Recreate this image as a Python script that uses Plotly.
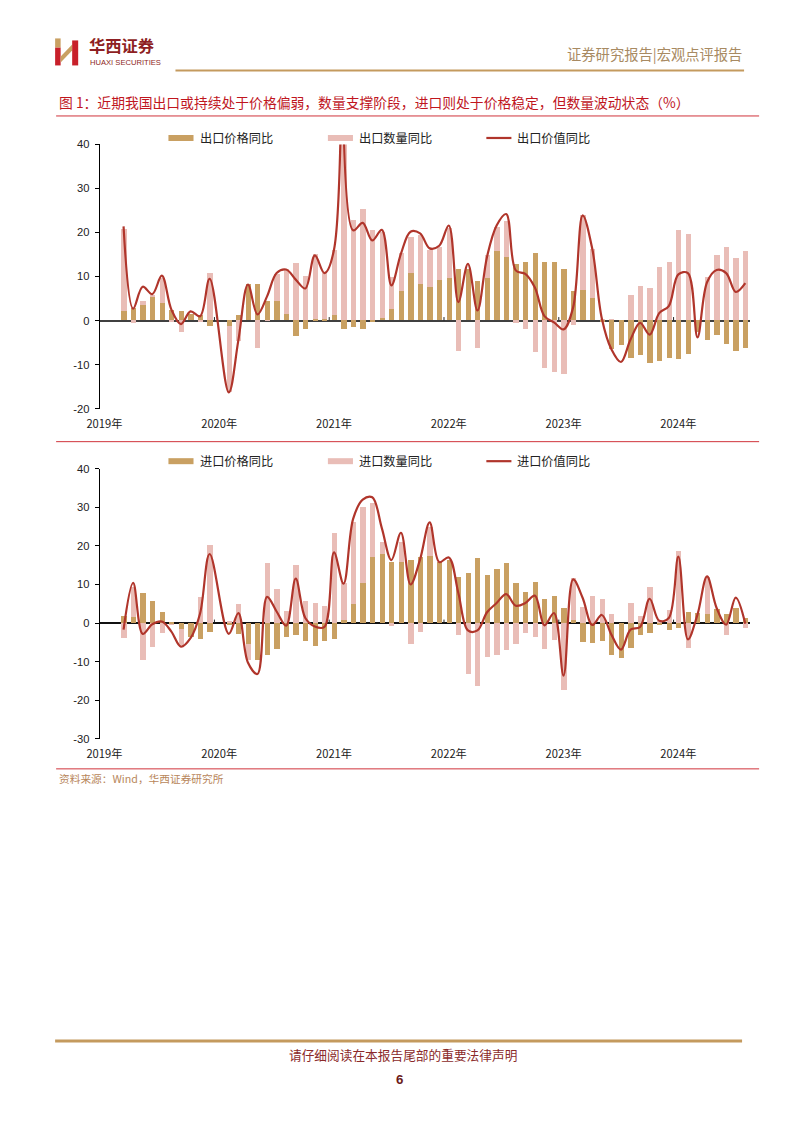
import plotly.graph_objects as go

W, H = 802, 1133

# ---------------- data ----------------
months = [
    "2019-03", "2019-04", "2019-05", "2019-06", "2019-07", "2019-08", "2019-09", "2019-10", "2019-11", "2019-12",
    "2020-02", "2020-03", "2020-04", "2020-05", "2020-06", "2020-07", "2020-08", "2020-09", "2020-10", "2020-11", "2020-12",
    "2021-01", "2021-02", "2021-03", "2021-04", "2021-05", "2021-06", "2021-07", "2021-08", "2021-09", "2021-10", "2021-11", "2021-12",
    "2022-01", "2022-02", "2022-03", "2022-04", "2022-05", "2022-06", "2022-07", "2022-08", "2022-09", "2022-10", "2022-11", "2022-12",
    "2023-01", "2023-02", "2023-03", "2023-04", "2023-05", "2023-06", "2023-07", "2023-08", "2023-09", "2023-10", "2023-11", "2023-12",
    "2024-01", "2024-02", "2024-03", "2024-04", "2024-05", "2024-06", "2024-07", "2024-08",
]

exp_price = [
    2.1, 2.8, 3.4, 5.3, 3.9, 2.3, 2.0, 1.5, 1.1, -1.3,
    -1.3, 1.1, 8.2, 8.3, 4.3, 4.3, 1.3, -3.6, -2.0, 0.2, 0.3,
    1.1, -2.0, -1.6, -2.0, -0.3, 0.5, 2.5, 6.6, 10.6, 8.1, 7.5, 9.2,
    9.5, 11.6, 11.5, 8.8, 9.5, 15.6, 14.3, 12.8, 13.2, 15.2, 13.2, 13.2,
    11.7, 6.5, 6.9, 5.1, -0.3, -6.6, -5.6, -8.5, -7.9, -9.8, -9.3, -8.6,
    -8.9, -7.7, -2.8, -4.5, -3.3, -5.5, -7.0, -6.4,
]
exp_qty = [
    20.8, -0.6, 4.3, 5.8, 9.5, -0.5, -2.8, 0.5, -0.4, 10.7,
    -16.3, -4.7, 7.4, -6.4, 0.3, 10.4, 11.7, 13.0, 10.0, 15.0, 10.7,
    16.0, 150.0, 22.7, 25.2, 20.4, 20.0, 9.8, 15.2, 18.9, 19.3, 15.9, 16.5,
    21.0, -7.0, 1.0, -6.4, 14.7, 21.1, 22.4, -0.7, -2.0, -7.2, -10.8, -11.8,
    -12.3, -1.0, 23.8, 16.1, 0.3, 0.2, -4.0, 5.7, 7.8, 7.3, 12.0, 13.1,
    20.5, 19.5, -1.0, 9.7, 14.8, 16.5, 14.2, 15.6,
]
exp_value = [
    21.4, 2.7, 7.7, 6.0, 10.2, 2.5, -0.8, 2.1, 1.0, 9.5,
    -16.3, -4.5, 8.2, 1.4, 5.5, 10.8, 11.6, 9.3, 7.3, 14.8, 10.8,
    16.1, 150.0, 20.5, 22.2, 18.2, 20.6, 8.0, 15.2, 20.2, 19.8, 16.4, 17.0,
    21.6, 4.2, 12.9, 2.3, 14.5, 21.6, 24.2, 11.4, 10.6, 7.5, 1.0, -0.4,
    -2.0, 3.0, 23.9, 16.3, 0.5, -6.5, -9.4, -4.3, -0.5, -3.2, 1.7, 3.3,
    10.5, 10.8, -3.8, 8.7, 11.5, 10.8, 6.5, 8.5,
]

imp_price = [
    1.9, 1.7, 7.9, 5.9, 2.9, 0.2, -1.5, -3.5, -4.0, -2.2,
    -0.5, -2.7, -5.4, -9.5, -8.2, -6.7, -3.5, -2.9, -4.6, -5.9, -4.5,
    -4.1, 1.0, 5.0, 10.4, 17.3, 18.0, 16.0, 15.8, 16.3, 17.1, 17.5, 16.0,
    16.5, 11.9, 13.1, 17.0, 12.6, 14.2, 15.6, 10.5, 8.2, 10.7, 6.4, 7.2,
    4.1, 1.0, -4.8, -5.0, -4.5, -8.3, -8.9, -6.3, -3.0, -2.6, -0.3, -1.8,
    -1.2, 2.9, 2.6, 2.5, 3.8, 2.4, 3.9, 1.4,
]
imp_qty = [
    -3.7, 9.5, -9.5, -6.1, -2.4, -0.5, -5.7, -1.0, 6.9, 20.2,
    0.5, 5.0, -9.5, -4.0, 15.7, 9.0, 3.2, 15.0, 5.8, 5.4, 4.5,
    23.3, 10.4, 26.3, 30.1, 31.3, 21.0, -0.8, 21.0, -5.4, -2.2, 25.0, 14.0,
    15.0, -3.1, -13.2, -16.3, -8.7, -8.1, -7.0, -5.4, -2.6, -3.6, -6.7, -4.4,
    -17.2, 11.8, 4.2, 7.1, 6.2, 2.4, -0.2, 5.3, 2.0, 9.4, 1.0, 3.5,
    18.8, -6.5, 0.7, 12.0, 1.0, -2.9, 2.5, -1.3,
]
imp_value = [
    -1.7, 10.4, -2.8, -0.3, 0.4, -2.2, -6.1, -3.9, 2.5, 17.9,
    -2.8, 2.6, -10.2, -13.2, 6.8, 3.0, -0.7, 11.5, 1.3, -0.9, -1.0,
    18.3, 10.2, 27.0, 32.0, 32.6, 24.6, 16.3, 23.4, 10.0, 16.5, 26.1, 15.8,
    17.0, 7.8, -1.9, -1.9, 2.8, 5.2, 7.5, 4.5, 5.2, 7.1, -0.6, 2.6,
    -13.6, 11.3, 6.5, -0.5, 2.1, -3.0, -6.9, -1.7, -1.0, 6.3, 0.6, 1.3,
    17.2, -4.2, 2.2, 12.1, 3.9, -0.4, 6.6, -0.2,
]

year_ticks = [0, 12, 24, 36, 48, 60]
year_labels = ["2019年", "2020年", "2021年", "2022年", "2023年", "2024年"]
top_yticks = [-20, -10, 0, 10, 20, 30, 40]
bot_yticks = [-30, -20, -10, 0, 10, 20, 30, 40]

top_names = ["出口价格同比", "出口数量同比", "出口价值同比"]
bot_names = ["进口价格同比", "进口数量同比", "进口价值同比"]

# ---------------- style ----------------
GOLD = "#C9A062"
PINK = "#E9BDB7"
RED = "#B0352B"
CJK = "Noto Sans CJK SC, Noto Sans, sans-serif"
NUM = "Arial, Liberation Sans, sans-serif"

# the returned photograph shrinks the page slightly; place items so they land on target pixels
SX, OX = 0.981, 13.0
SY, OY = 0.9888, 5.6


def X(px):
    return ((px - OX) / SX) / W


def Y(py):
    return 1 - ((py - OY) / SY) / H


def fs(s):
    return round(s / SX, 1)


def midx(s):
    y, m = s.split("-")
    return (int(y) - 2019) * 12 + int(m) - 1


x = [midx(s) for s in months]

fig = go.Figure()

for (qty, price, val, names, xa, ya) in [
    (exp_qty, exp_price, exp_value, top_names, "x", "y"),
    (imp_qty, imp_price, imp_value, bot_names, "x2", "y2"),
]:
    fig.add_trace(go.Bar(x=x, y=qty, name=names[1], marker=dict(color=PINK, line=dict(width=0)),
                         width=0.55, xaxis=xa, yaxis=ya, showlegend=False))
    fig.add_trace(go.Bar(x=x, y=price, name=names[0], marker=dict(color=GOLD, line=dict(width=0)),
                         width=0.55, xaxis=xa, yaxis=ya, showlegend=False))
    fig.add_trace(go.Scatter(x=x, y=val, name=names[2], mode="lines",
                             line=dict(color=RED, width=2.2, shape="spline", smoothing=1.0),
                             xaxis=xa, yaxis=ya, showlegend=False))

xcommon = dict(range=[-0.5, 67.5], tickvals=year_ticks, ticktext=year_labels, showline=False,
               ticks="", showgrid=False, zeroline=False, tickfont=dict(family=CJK, size=fs(11), color="#222"),
               ticklabelstandoff=7, fixedrange=True)
ycommon = dict(showline=True, linecolor="#000", linewidth=1, ticks="outside", ticklen=4, tickcolor="#000",
               showgrid=False, zeroline=True, zerolinewidth=2, ticklabelstandoff=3,
               tickfont=dict(family=NUM, size=fs(11), color="#222"), fixedrange=True)

fig.update_layout(
    width=W, height=H, margin=dict(l=0, r=0, t=0, b=0),
    paper_bgcolor="white", plot_bgcolor="white",
    barmode="overlay", bargap=0,
    xaxis=dict(domain=[X(99.4), X(748)], anchor="y", **xcommon),
    yaxis=dict(domain=[Y(408), Y(144)], anchor="x", range=[-20, 40], tickvals=top_yticks,
               ticktext=[str(v) for v in top_yticks], zerolinecolor="#404040", **ycommon),
    xaxis2=dict(domain=[X(99.4), X(748)], anchor="y2", **xcommon),
    yaxis2=dict(domain=[Y(738), Y(468)], anchor="x2", range=[-30, 40], tickvals=bot_yticks,
                ticktext=[str(v) for v in bot_yticks], zerolinecolor="#111111", **ycommon),
)

shapes = []
annotations = []

# small year-boundary ticks sitting on the zero line
for xr, yr, h in [("x", "y", 0.8), ("x2", "y2", 0.9)]:
    for t in year_ticks[1:]:
        shapes.append(dict(type="line", xref=xr, yref=yr, x0=t - 0.5, x1=t - 0.5, y0=0, y1=h,
                           line=dict(color="#222", width=1)))

# legends (drawn manually to mimic wide swatches)
for names, ly in [(top_names, 137.5), (bot_names, 460.5)]:
    shapes.append(dict(type="rect", xref="paper", yref="paper", x0=X(168), x1=X(193), y0=Y(ly + 3), y1=Y(ly - 3),
                       fillcolor=GOLD, line=dict(width=0)))
    shapes.append(dict(type="rect", xref="paper", yref="paper", x0=X(327), x1=X(352), y0=Y(ly + 3), y1=Y(ly - 3),
                       fillcolor=PINK, line=dict(width=0)))
    shapes.append(dict(type="line", xref="paper", yref="paper", x0=X(485), x1=X(510), y0=Y(ly), y1=Y(ly),
                       line=dict(color=RED, width=2.2)))
    for nm, tx in zip(names, [197, 356, 514]):
        annotations.append(dict(text=nm, x=X(tx), y=Y(ly), xref="paper", yref="paper", xanchor="left",
                                yanchor="middle", showarrow=False, font=dict(family=CJK, size=fs(12), color="#222")))

# header logo
LOGO_RED = "#C8202A"
LOGO_GOLD = "#C9A062"
shapes.append(dict(type="rect", xref="paper", yref="paper", x0=X(55), x1=X(60.5), y0=Y(65), y1=Y(47),
                   fillcolor=LOGO_RED, line=dict(width=0)))
shapes.append(dict(type="rect", xref="paper", yref="paper", x0=X(55), x1=X(60.5), y0=Y(47), y1=Y(38),
                   fillcolor=LOGO_GOLD, line=dict(width=0)))
shapes.append(dict(type="path", xref="paper", yref="paper",
                   path=f"M {X(60.5)},{Y(56)} L {X(72)},{Y(44)} L {X(72)},{Y(50)} L {X(60.5)},{Y(62)} Z",
                   fillcolor=LOGO_GOLD, line=dict(width=0)))
shapes.append(dict(type="rect", xref="paper", yref="paper", x0=X(72), x1=X(78), y0=Y(65), y1=Y(40),
                   fillcolor=LOGO_RED, line=dict(width=0)))
annotations.append(dict(text="<b>华西证券</b>", x=X(87), y=Y(45), xref="paper", yref="paper", xanchor="left",
                        yanchor="middle", showarrow=False, font=dict(family=CJK, size=fs(16), color="#8E1F23")))
annotations.append(dict(text="HUAXI SECURITIES", x=X(87.5), y=Y(62.5), xref="paper", yref="paper", xanchor="left",
                        yanchor="middle", showarrow=False, font=dict(family=NUM, size=fs(7.5), color="#8E1F23")))
annotations.append(dict(text="证券研究报告|宏观点评报告", x=X(742), y=Y(53), xref="paper", yref="paper",
                        xanchor="right", yanchor="middle", showarrow=False,
                        font=dict(family=CJK, size=fs(14), color="#A88A62")))
shapes.append(dict(type="line", xref="paper", yref="paper", x0=X(175), x1=X(742), y0=Y(70), y1=Y(70),
                   line=dict(color="#C49A5E", width=2)))

# title and separators
annotations.append(dict(text="图 1：近期我国出口或持续处于价格偏弱，数量支撑阶段，进口则处于价格稳定，但数量波动状态（%）",
                        x=X(57), y=Y(102), xref="paper", yref="paper", xanchor="left", yanchor="middle",
                        showarrow=False, font=dict(family=CJK, size=fs(13.5), color="#C0161E")))
for ly in [115.5, 441, 768]:
    shapes.append(dict(type="line", xref="paper", yref="paper", x0=X(56), x1=X(757), y0=Y(ly), y1=Y(ly),
                       line=dict(color="#D0333B", width=1)))

annotations.append(dict(text="资料来源：Wind，华西证券研究所", x=X(57), y=Y(778), xref="paper", yref="paper",
                        xanchor="left", yanchor="middle", showarrow=False,
                        font=dict(family=CJK, size=fs(10.5), color="#B8865A")))

# footer
shapes.append(dict(type="line", xref="paper", yref="paper", x0=X(55), x1=X(740), y0=Y(1040), y1=Y(1040),
                   line=dict(color="#C49A5E", width=3)))
annotations.append(dict(text="请仔细阅读在本报告尾部的重要法律声明", x=X(402), y=Y(1053), xref="paper", yref="paper",
                        xanchor="center", yanchor="middle", showarrow=False,
                        font=dict(family=CJK, size=fs(12.5), color="#8B2A2A")))
annotations.append(dict(text="<b>6</b>", x=X(398), y=Y(1078), xref="paper", yref="paper",
                        xanchor="center", yanchor="middle", showarrow=False,
                        font=dict(family=NUM, size=fs(13), color="#6B1A1A")))

fig.update_layout(shapes=shapes, annotations=annotations)

fig.write_html(
    "out.html",
    config={"displayModeBar": False},
    post_script="document.documentElement.style.margin='0';document.body.style.margin='0';"
                "document.body.style.padding='0';document.documentElement.style.overflow='hidden';",
)
